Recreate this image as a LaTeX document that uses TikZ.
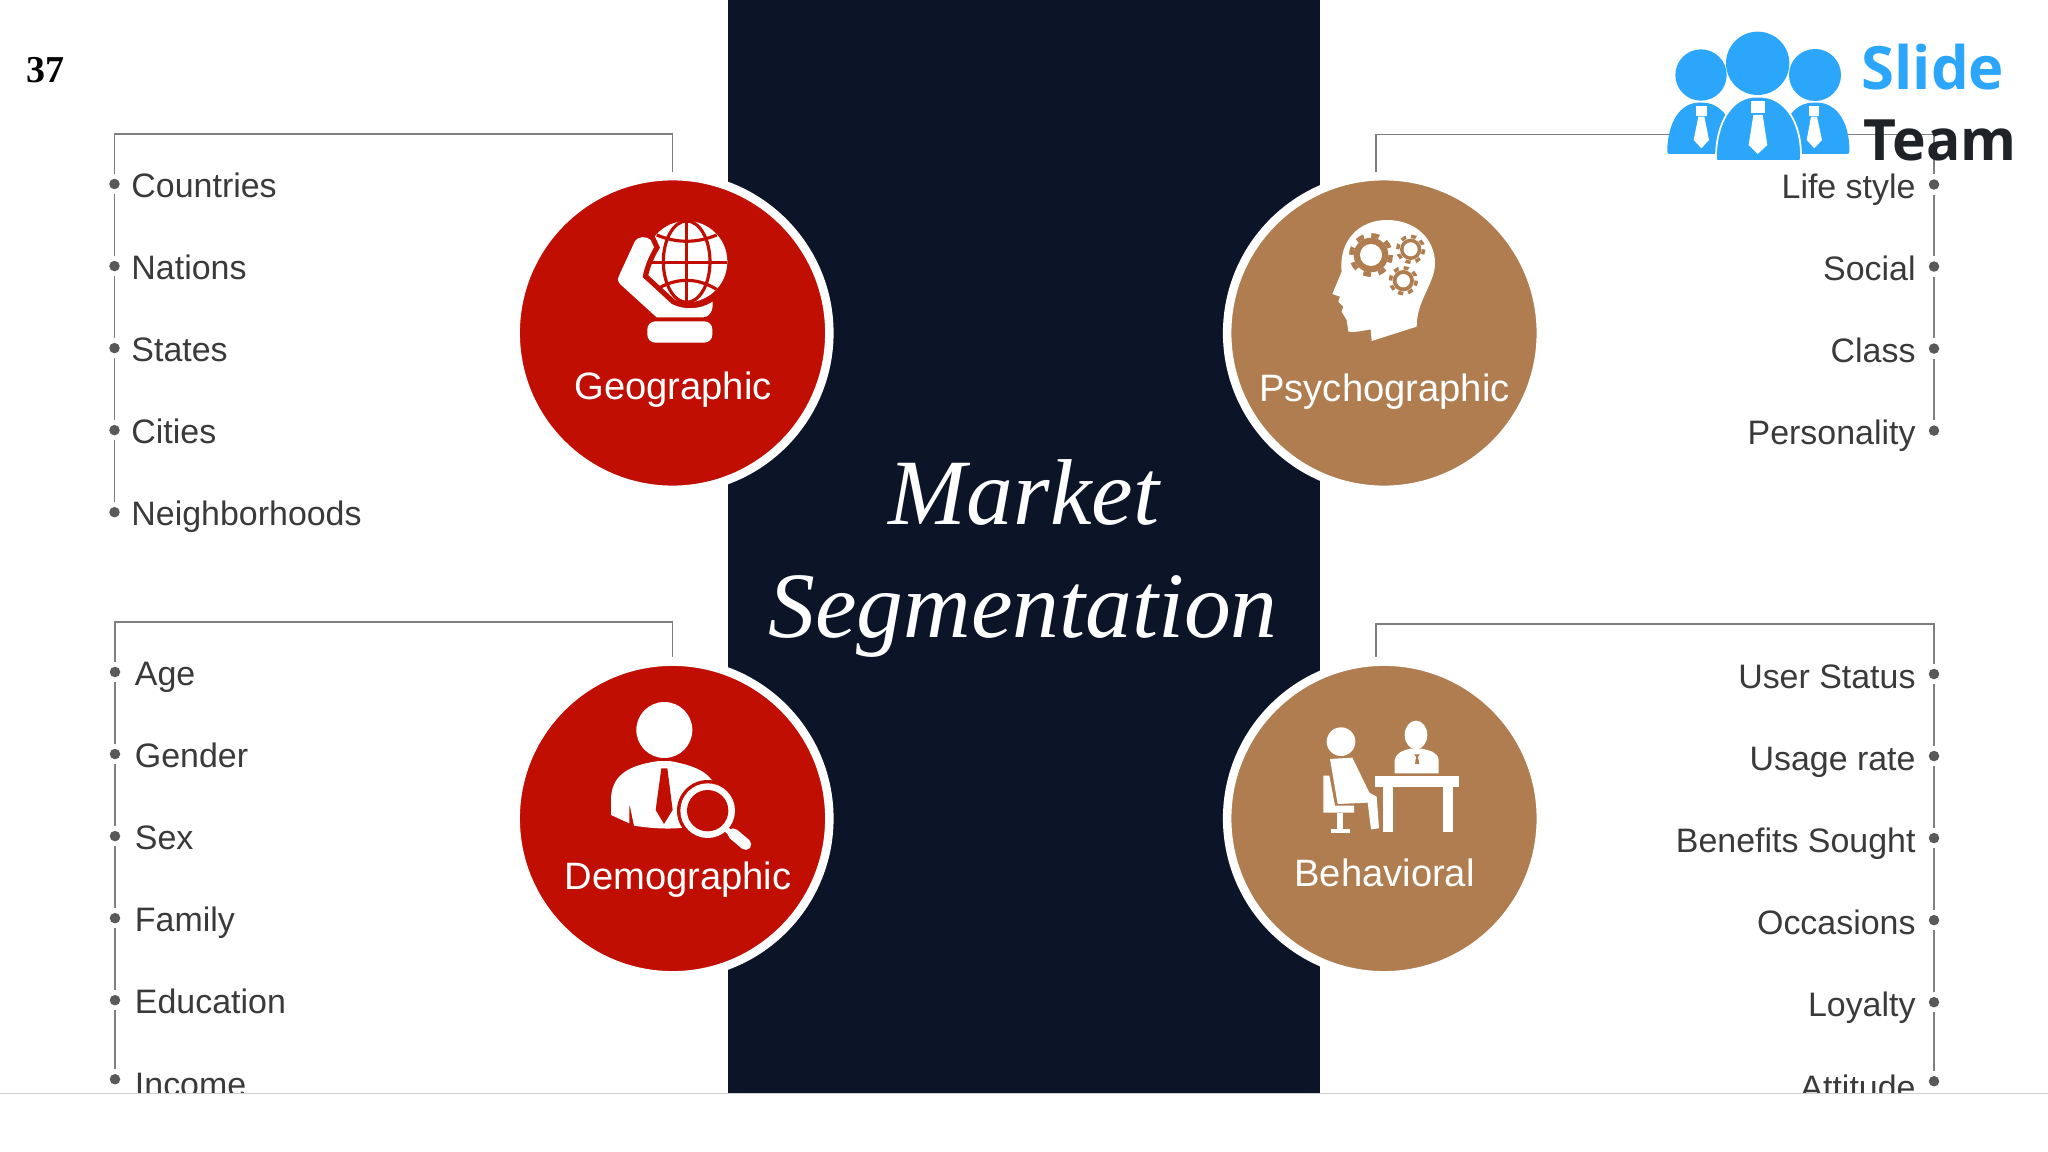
\documentclass[tikz,border=0pt]{standalone}
\usepackage{fontspec}
\setmainfont{Liberation Sans}
\newfontfamily\titlefont{Liberation Serif}
\newfontfamily\logofont{Open Sans}
\usetikzlibrary{positioning}

\definecolor{navypanel}{HTML}{0C1428}
\definecolor{segred}{HTML}{C10E03}
\definecolor{segtan}{HTML}{B07D50}
\definecolor{itemgray}{HTML}{3A3A3A}
\definecolor{rulegray}{HTML}{7F7F7F}
\definecolor{dotgray}{HTML}{595959}
\definecolor{footgray}{HTML}{D2CFD2}
\definecolor{logoblue}{HTML}{2BA6FB}
\definecolor{logodark}{HTML}{1F2328}

\tikzset{
  segcircle/.style = {circle, draw = white, line width = 0.085cm, minimum size = 3.135cm, inner sep = 0pt},
  seglabel/.style = {anchor = base, text = white, inner sep = 0pt, font = \fontsize{10.85}{13}\selectfont},
  itemdot/.style = {circle, fill = dotgray, minimum size = 0.105cm, inner sep = 0pt, outer sep = 0.05cm},
  itemtext/.style = {text = itemgray, inner sep = 0pt, text height = 0.245cm, text depth = 0.07cm, yshift = -0.05cm, font = \fontsize{9.65}{12}\selectfont},
  bracket/.style = {draw = rulegray, line width = 0.45pt},
  titletext/.style = {anchor = base, text = white, inner sep = 0pt, font = \titlefont\itshape\fontsize{26.6}{30}\selectfont},
  logotext/.style = {anchor = base west, inner sep = 0pt},
  gearteeth/.style = {draw = segtan, dash pattern = on #1 off #1}
}

\begin{document}
\begin{tikzpicture}[x = 0.01cm, y = -0.01cm, node distance = 0.82cm]
      \useasboundingbox (0,0) rectangle (2048,1152);
      \fill [white] (0,0) rectangle (2048,1152);
      \fill [navypanel] (728,0) rectangle (1320,1093);

      % place nodes
      \node (pagenum) [anchor = base west, inner sep = 0pt, font = \titlefont\bfseries\fontsize{10.8}{13}\selectfont] at (26,83) {37};

      \node (market) [titletext] at (1024,524.5) {Market};
      \node (segment) [titletext] at (1023,637) {Segmentation};

      \node (geo) [segcircle, fill = segred] at (672.5,333) {};
      \node (psy) [segcircle, fill = segtan] at (1384,333) {};
      \node (dem) [segcircle, fill = segred] at (672.5,818.5) {};
      \node (beh) [segcircle, fill = segtan] at (1384,818.5) {};

      \node (geolabel) [seglabel] at (673,400) {Geographic};
      \node (psylabel) [seglabel] at (1384.5,401.5) {Psychographic};
      \node (demlabel) [seglabel] at (678,889) {Demographic};
      \node (behlabel) [seglabel] at (1384.5,886) {Behavioral};

      \node (gd1) [itemdot] at (114.5,184) {};
      \node (gd2) [itemdot, below of = gd1] {};
      \node (gd3) [itemdot, below of = gd2] {};
      \node (gd4) [itemdot, below of = gd3] {};
      \node (gd5) [itemdot, below of = gd4] {};

      \node (gt1) [itemtext, right = 0.06cm of gd1] {Countries};
      \node (gt2) [itemtext, right = 0.06cm of gd2] {Nations};
      \node (gt3) [itemtext, right = 0.06cm of gd3] {States};
      \node (gt4) [itemtext, right = 0.06cm of gd4] {Cities};
      \node (gt5) [itemtext, right = 0.06cm of gd5] {Neighborhoods};

      \node (dd1) [itemdot] at (115,672) {};
      \node (dd2) [itemdot, below of = dd1] {};
      \node (dd3) [itemdot, below of = dd2] {};
      \node (dd4) [itemdot, below of = dd3] {};
      \node (dd5) [itemdot, below of = dd4] {};
      \node (dd6) [itemdot, below of = dd5, node distance = 0.79cm] {};

      \node (dt1) [itemtext, right = 0.09cm of dd1] {Age};
      \node (dt2) [itemtext, right = 0.09cm of dd2] {Gender};
      \node (dt3) [itemtext, right = 0.09cm of dd3] {Sex};
      \node (dt4) [itemtext, right = 0.09cm of dd4] {Family};
      \node (dt5) [itemtext, right = 0.09cm of dd5] {Education};
      \node (dt6) [itemtext, right = 0.09cm of dd6, yshift = -0.035cm] {Income};

      \node (pd1) [itemdot] at (1934,184.5) {};
      \node (pd2) [itemdot, below of = pd1] {};
      \node (pd3) [itemdot, below of = pd2] {};
      \node (pd4) [itemdot, below of = pd3] {};

      \node (pt1) [itemtext, left = 0.075cm of pd1] {Life style};
      \node (pt2) [itemtext, left = 0.075cm of pd2] {Social};
      \node (pt3) [itemtext, left = 0.075cm of pd3] {Class};
      \node (pt4) [itemtext, left = 0.075cm of pd4] {Personality};

      \node (bd1) [itemdot] at (1934,674) {};
      \node (bd2) [itemdot, below of = bd1] {};
      \node (bd3) [itemdot, below of = bd2] {};
      \node (bd4) [itemdot, below of = bd3] {};
      \node (bd5) [itemdot, below of = bd4] {};
      \node (bd6) [itemdot, below of = bd5, node distance = 0.79cm] {};

      \node (bt1) [itemtext, left = 0.075cm of bd1, yshift = -0.01cm] {User Status};
      \node (bt2) [itemtext, left = 0.075cm of bd2, yshift = -0.01cm] {Usage rate};
      \node (bt3) [itemtext, left = 0.075cm of bd3, yshift = -0.01cm] {Benefits Sought};
      \node (bt4) [itemtext, left = 0.075cm of bd4, yshift = -0.01cm] {Occasions};
      \node (bt5) [itemtext, left = 0.075cm of bd5, yshift = -0.01cm] {Loyalty};
      \node (bt6) [itemtext, left = 0.075cm of bd6, yshift = -0.045cm] {Attitude};

      \coordinate (gcorner) at (114.5,134);
      \coordinate (dcorner) at (115,622);
      \coordinate (pcorner) at (1934,134.5);
      \coordinate (bcorner) at (1934,624);
      \coordinate (pdrop) at (1376,172);
      \coordinate (bdrop) at (1376,657);

      % draw edges
      \draw [bracket] (gd1) -- (gcorner) -| (geo.north);
      \draw [bracket] (gd1) -- (gd2);
      \draw [bracket] (gd2) -- (gd3);
      \draw [bracket] (gd3) -- (gd4);
      \draw [bracket] (gd4) -- (gd5);

      \draw [bracket] (dd1) -- (dcorner) -| (dem.north);
      \draw [bracket] (dd1) -- (dd2);
      \draw [bracket] (dd2) -- (dd3);
      \draw [bracket] (dd3) -- (dd4);
      \draw [bracket] (dd4) -- (dd5);
      \draw [bracket] (dd5) -- (dd6);

      \draw [bracket] (pd1) -- (pcorner) -| (pdrop);
      \draw [bracket] (pd1) -- (pd2);
      \draw [bracket] (pd2) -- (pd3);
      \draw [bracket] (pd3) -- (pd4);

      \draw [bracket] (bd1) -- (bcorner) -| (bdrop);
      \draw [bracket] (bd1) -- (bd2);
      \draw [bracket] (bd2) -- (bd3);
      \draw [bracket] (bd3) -- (bd4);
      \draw [bracket] (bd4) -- (bd5);
      \draw [bracket] (bd5) -- (bd6);

      % globe in hand
      \begin{scope}[shift = {(500,160)}, scale = 1/3]
        \fill [white] (560,305) circle (122);
        \draw [segred, line width = 0.9pt] (560,183) -- (560,428);
        \draw [segred, line width = 0.9pt] (438,308) -- (682,308);
        \draw [segred, line width = 0.9pt] (560,305) ellipse (70 and 122);
        \draw [segred, line width = 0.9pt] (470,225) .. controls (530,250) and (590,250) .. (650,225);
        \draw [segred, line width = 0.9pt] (470,388) .. controls (530,352) and (590,352) .. (650,388);
        \fill [white, preaction = {draw = segred, line width = 3pt}] (405,243) .. controls (415,228) and (440,228) .. (452,240) -- (462,262) .. controls (445,290) and (430,330) .. (428,352) -- (515,432) .. controls (550,450) and (600,450) .. (638,425) .. controls (640,450) and (630,472) .. (610,472) -- (470,472) -- (360,372) .. controls (352,362) and (352,352) .. (358,345) -- cycle;
        \fill [white, rounded corners = 0.08cm] (442,484) rectangle (637,548);
      \end{scope}

      % head with gears
      \begin{scope}[shift = {(1200,160)}, scale = 1/3]
        \fill [white] (650,500) -- (515,543) -- (512,508) .. controls (490,512) and (465,518) .. (445,515) -- (440,480) -- (425,455) -- (430,440) -- (415,425) -- (420,410) -- (397,402) -- (425,335) .. controls (415,240) and (480,180) .. (560,180) .. controls (650,180) and (705,240) .. (705,310) .. controls (705,370) and (650,420) .. (650,500) -- cycle;
        \fill [segtan] (513,285) circle (52);
        \draw [gearteeth = 2.2pt, line width = 1.3pt] (513,285) circle (59);
        \fill [white] (513,285) circle (33);
        \fill [segtan] (632,268) circle (32);
        \draw [gearteeth = 1.45pt, line width = 1pt] (632,268) circle (39);
        \fill [white] (632,268) circle (21);
        \fill [segtan] (610,362) circle (32);
        \draw [gearteeth = 1.45pt, line width = 1pt] (610,362) circle (39);
        \fill [white] (610,362) circle (20);
      \end{scope}

      % person with magnifier
      \begin{scope}[shift = {(500,660)}, scale = 1/3]
        \fill [white] (493,210) circle (84);
        \fill [white] (333,465) -- (333,420) .. controls (333,350) and (380,315) .. (478,303) -- (508,303) .. controls (580,315) and (625,335) .. (645,375) -- (570,500) .. controls (520,510) and (450,505) .. (402,497) -- (388,430) -- (388,490) -- cycle;
        \fill [segred] (484,325) -- (502,325) -- (518,450) -- (492,492) -- (467,450) -- cycle;
        \fill [segred] (623,452) circle (92);
        \fill [white] (623,452) circle (82);
        \fill [segred] (623,452) circle (62);
        \draw [white, line width = 1.6pt] (675,505) -- (700,525);
        \draw [white, line width = 3.2pt, line cap = round] (700,522) -- (737,553);
      \end{scope}

      % two persons at a desk
      \begin{scope}[shift = {(1200,660)}, scale = 1/3]
        \fill [white] (423,245) circle (43);
        \fill [white] (390,297) -- (457,293) -- (508,398) -- (530,410) -- (537,505) -- (513,508) -- (503,428) -- (413,432) -- cycle;
        \fill [white] (370,347) -- (388,347) -- (405,437) -- (462,437) -- (462,458) -- (370,458) -- cycle;
        \fill [white] (412,458) rectangle (428,510);
        \fill [white] (393,508) rectangle (450,518);
        \fill [white] (648,225) ellipse (34 and 43);
        \fill [white] (584,340) -- (584,300) .. controls (590,275) and (610,272) .. (630,266) -- (665,266) .. controls (690,272) and (712,275) .. (716,300) -- (716,340) -- cycle;
        \fill [segtan] (642,283) -- (660,283) -- (654,290) -- (658,312) -- (645,312) -- (648,290) -- cycle;
        \fill [white] (525,348) rectangle (776,382);
        \fill [white] (548,382) rectangle (580,515);
        \fill [white] (728,382) rectangle (760,515);
      \end{scope}

      % cover below the slide
      \coordinate (footleft) at (0,1093.5);
      \coordinate (footright) at (2048,1093.5);
      \fill [white] (footleft) rectangle (2048,1152);
      \draw [footgray, line width = 0.4pt] (footleft) -- (footright);

      % logo
      \begin{scope}[shift = {(1640,0)}, scale = 1/3]
        \fill [logoblue] (183,225) circle (77);
        \fill [logoblue] (525,225) circle (78);
        \fill [logoblue] (353,190) circle (95);
        \fill [logoblue, rounded corners = 0.02cm] (82,462) -- (82,440) .. controls (90,350) and (130,308) .. (183,308) .. controls (235,308) and (280,350) .. (285,440) -- (285,462) -- cycle;
        \fill [logoblue, rounded corners = 0.02cm] (420,462) -- (420,440) .. controls (430,350) and (470,308) .. (525,308) .. controls (580,308) and (622,350) .. (628,440) -- (628,462) -- cycle;
        \filldraw [fill = logoblue, draw = white, line width = 0.5pt, rounded corners = 0.02cm] (228,483) -- (228,460) .. controls (235,350) and (285,290) .. (353,290) .. controls (425,290) and (478,350) .. (483,460) -- (483,483) -- cycle;
        \fill [white] (168,318) rectangle (200,348);
        \fill [white] (175,350) -- (193,350) -- (207,420) -- (184,445) -- (161,420) -- cycle;
        \fill [white] (333,303) rectangle (375,340);
        \fill [white] (340,345) -- (368,345) -- (382,435) -- (353,462) -- (326,435) -- cycle;
        \fill [white] (507,318) rectangle (538,348);
        \fill [white] (513,350) -- (531,350) -- (546,420) -- (523,445) -- (500,420) -- cycle;
      \end{scope}
      \node (slide) [logotext, text = logoblue, font = \logofont\bfseries\fontsize{17}{20}\selectfont] at (1861,89.5) {Slide};
      \node (team) [logotext, text = logodark, font = \logofont\bfseries\fontsize{16.2}{20}\selectfont] at (1863,160.7) {Team};
\end{tikzpicture}
\end{document}
